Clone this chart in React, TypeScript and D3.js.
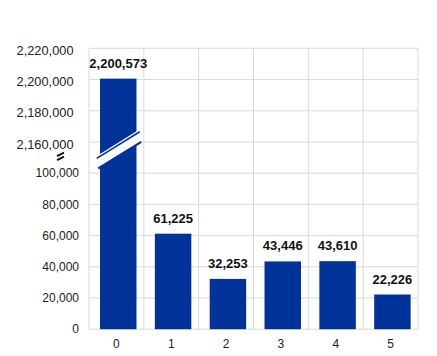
import React from "react";
import * as d3 from "d3";

const categories = ["0", "1", "2", "3", "4", "5"];
const values = [2200573, 61225, 32253, 43446, 43610, 22226];
const lowerTicks = [0, 20000, 40000, 60000, 80000, 100000];
const upperTicks = [2160000, 2180000, 2200000, 2220000];

const W = 437;
const H = 356;
const left = 89;
const right = 418;
const bottom = 329.2;
const breakLine = 173.2;
const top = 48.3;
const BAR = "#003399";
const GRID = "#d9d9d9";
const FONT = "'Liberation Sans', Arial, sans-serif";

export default function App() {
  const x = d3
    .scaleBand<string>()
    .domain(categories)
    .range([left, right])
    .paddingInner(0.335)
    .paddingOuter(0.1675)
    .align(0.6);
  const xc = d3.scaleBand<string>().domain(categories).range([left, right]);
  const yLow = d3.scaleLinear().domain([0, 100000]).range([bottom, breakLine]);
  const yUp = d3.scaleLinear().domain([2160000, 2220000]).range([142, top]);
  const y = (v: number) => (v <= 100000 ? yLow(v) : yUp(v));
  const fmt = d3.format(",");
  const gridY = [...lowerTicks.map((t) => yLow(t)), ...upperTicks.map((t) => yUp(t))];
  const midBreak = (yLow(100000) + yUp(2160000)) / 2;

  return (
    <svg width={W} height={H} style={{ position: "absolute", left: 0, top: 0, background: "#fff" }} fontFamily={FONT}>
      {gridY.map((gy, i) => (
        <line key={"h" + i} x1={left} x2={right} y1={gy} y2={gy} stroke={GRID} strokeWidth={1} />
      ))}
      {[...categories.map((c) => xc(c)!), right].map((gx, i) => (
        <line key={"v" + i} x1={gx} x2={gx} y1={top} y2={bottom + 1} stroke={GRID} strokeWidth={1} />
      ))}
      {categories.map((c, i) => {
        const bx = x(c)!;
        const bw = x.bandwidth();
        const by = y(values[i]);
        return <rect key={"b" + i} x={bx} y={by} width={bw} height={bottom - by} fill={BAR} />;
      })}
      {categories.map((c, i) => {
        if (values[i] <= 100000) return null;
        const cx = x(c)! + x.bandwidth() / 2;
        const half = 21.5;
        const slope = -0.62;
        const t0 = midBreak - 12.5;
        const b0 = midBreak - 1.5;
        const t1 = (dx: number) => t0 + slope * dx;
        const by2 = (dx: number) => b0 + slope * dx;
        return (
          <g key={"brk" + i}>
            <polygon
              points={[
                [cx - half, t1(-half) - 2.5],
                [cx + half, t1(half) - 2.5],
                [cx + half, by2(half)],
                [cx - half, by2(-half)],
              ]
                .map((p) => p.join(","))
                .join(" ")}
              fill="#fff"
            />
            <line x1={cx - half} y1={t1(-half)} x2={cx + half} y2={t1(half)} stroke={BAR} strokeWidth={1.6} />
            <line x1={cx - half + 1.5} y1={by2(-half + 1.5)} x2={cx + half + 1.5} y2={by2(half + 1.5)} stroke={BAR} strokeWidth={2.2} />
          </g>
        );
      })}
      {categories.map((c, i) => (
        <text
          key={"l" + i}
          x={x(c)! + x.bandwidth() / 2}
          y={y(values[i]) - 11}
          textAnchor="middle"
          fontSize={13}
          fontWeight="bold"
          fill="#111"
        >
          {fmt(values[i])}
        </text>
      ))}
      {lowerTicks.map((t) => (
        <text key={"yl" + t} x={79} y={yLow(t) + 4.2} textAnchor="end" fontSize={12} fill="#222">
          {fmt(t)}
        </text>
      ))}
      {upperTicks.map((t) => (
        <text key={"yu" + t} x={73.5} y={yUp(t) + 6.6} textAnchor="end" fontSize={12.8} fill="#222">
          {fmt(t)}
        </text>
      ))}
      <line x1={57} y1={midBreak - 1.5} x2={64} y2={midBreak - 5} stroke="#111" strokeWidth={2} />
      <line x1={57} y1={midBreak + 2.5} x2={64} y2={midBreak - 1} stroke="#111" strokeWidth={2} />
      {categories.map((c) => (
        <text key={"x" + c} x={xc(c)! + xc.bandwidth() / 2} y={348} textAnchor="middle" fontSize={12} fill="#222">
          {c}
        </text>
      ))}
    </svg>
  );
}
